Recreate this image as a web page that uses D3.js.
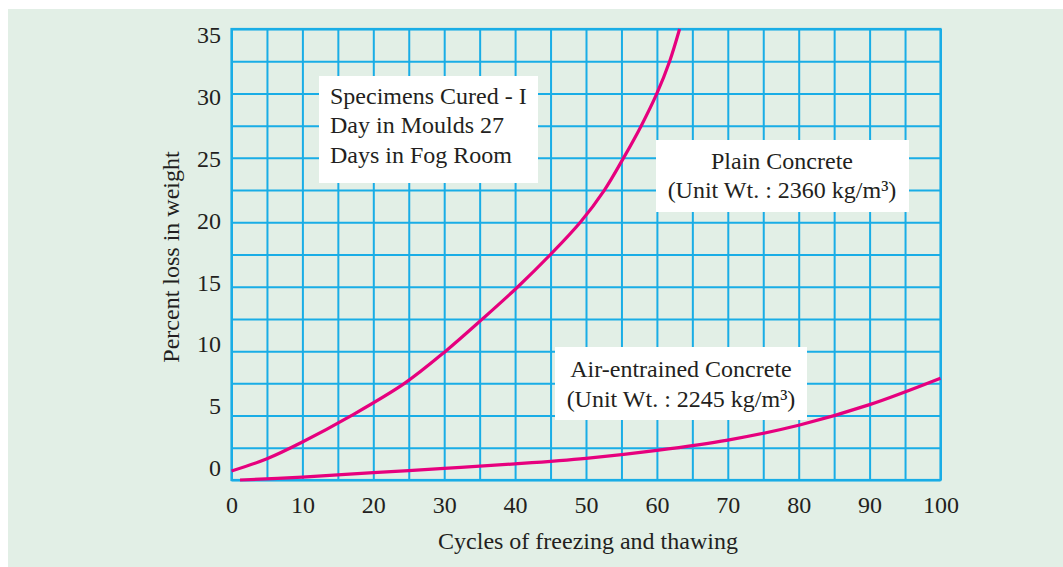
<!DOCTYPE html>
<html>
<head>
<meta charset="utf-8">
<script src="https://cdn.jsdelivr.net/npm/d3@7"></script>
<style>
  html, body { margin: 0; padding: 0; background: #ffffff; }
  svg { display: block; }
  text { font-family: "Liberation Serif", "Times New Roman", serif; fill: #231f20; }
</style>
</head>
<body>
<svg id="chart" width="1063" height="567"></svg>
<script>
// ---- data ----
const xTickValues = [0, 10, 20, 30, 40, 50, 60, 70, 80, 90, 100];
const yTickValues = [0, 5, 10, 15, 20, 25, 30, 35];

const plainCycles = [0, 5, 10, 16.9, 24.4, 30.2, 35.4, 40.4, 45.0, 49.2, 52.6, 55.3, 57.8, 60.0, 61.8, 63.2];
const plainLoss   = [0.7, 1.65, 2.95, 5, 7.5, 10, 12.5, 15, 17.5, 20, 22.5, 25, 27.5, 30, 32.5, 35];

const airCycles = [1.2, 10, 20, 30, 40, 50, 60, 70, 80, 90, 100];
const airLoss   = [0, 0.22, 0.57, 0.9, 1.25, 1.68, 2.3, 3.1, 4.25, 5.85, 7.9];

const xTitle = "Cycles of freezing and thawing";
const yTitle = "Percent loss in weight";
const noteCuring = ["Specimens Cured - I", "Day in Moulds 27", "Days in Fog Room"];
const notePlain = ["Plain Concrete", "(Unit Wt. : 2360 kg/m³)"];
const noteAir = ["Air-entrained Concrete", "(Unit Wt. : 2245 kg/m³)"];

// ---- layout ----
const svg = d3.select("#chart");
const gridColor = "#19ade6";
const curveColor = "#e6007e";
const pLeft = 231.5, pRight = 940.5, pTop = 29, pBottom = 480;

svg.append("rect").attr("x", 8).attr("y", 9).attr("width", 1063 - 8).attr("height", 567 - 9)
   .attr("fill", "#e2efe6");

const x = d3.scaleLinear().domain([0, 100]).range([pLeft, pRight]);
const y = d3.scaleLinear().domain([0, 35]).range([pBottom, pTop]);
// tick labels in the original sit on a slightly compressed ladder
const yLabel = d3.scaleLinear().domain([0, 35]).range([468, 35]);

// grid
const gx = svg.append("g").attr("transform", `translate(0,${pBottom})`)
  .call(d3.axisBottom(x).tickValues(d3.range(0, 100.01, 5)).tickSize(-(pBottom - pTop)).tickFormat(""));
const gy = svg.append("g").attr("transform", `translate(${pLeft},0)`)
  .call(d3.axisLeft(y).tickValues(d3.range(0, 35.01, 2.5)).tickSize(-(pRight - pLeft)).tickFormat(""));
[gx, gy].forEach(g => {
  g.select(".domain").remove();
  g.selectAll("line").attr("stroke", gridColor).attr("stroke-width", 2);
});
svg.append("rect").attr("x", pLeft).attr("y", pTop).attr("width", pRight - pLeft).attr("height", pBottom - pTop)
   .attr("fill", "none").attr("stroke", gridColor).attr("stroke-width", 2.2);

// axes labels
const ax = svg.append("g").attr("transform", `translate(0,${pBottom})`)
  .call(d3.axisBottom(x).tickValues(xTickValues).tickSize(0).tickPadding(16));
ax.select(".domain").remove();
ax.selectAll("text").attr("font-size", 24).attr("font-family", "Liberation Serif").attr("fill", "#231f20");

const ay = svg.append("g").attr("transform", `translate(${pLeft},0)`)
  .call(d3.axisLeft(yLabel).tickValues(yTickValues).tickSize(0).tickPadding(10.5));
ay.select(".domain").remove();
ay.selectAll("text").attr("font-size", 24).attr("font-family", "Liberation Serif").attr("fill", "#231f20");

svg.append("text").attr("x", 588).attr("y", 549).attr("text-anchor", "middle")
   .attr("font-size", 24).text(xTitle);
svg.append("text").attr("transform", "translate(179,257) rotate(-90)").attr("text-anchor", "middle")
   .attr("font-size", 24).text(yTitle);

// curves
const line = d3.line().x(d => x(d[0])).y(d => y(d[1])).curve(d3.curveCatmullRom.alpha(0.5));
svg.append("path").datum(d3.zip(plainCycles, plainLoss)).attr("d", line)
   .attr("fill", "none").attr("stroke", curveColor).attr("stroke-width", 3.2);
svg.append("path").datum(d3.zip(airCycles, airLoss)).attr("d", line)
   .attr("fill", "none").attr("stroke", curveColor).attr("stroke-width", 3.2);

// annotation boxes
function note(lines, bx, by, bw, bh, tx, ty0, anchor) {
  svg.append("rect").attr("x", bx).attr("y", by).attr("width", bw).attr("height", bh).attr("fill", "#ffffff");
  lines.forEach((t, i) => {
    svg.append("text").attr("x", tx).attr("y", ty0 + i * 29.5).attr("text-anchor", anchor)
       .attr("font-size", 24).text(t);
  });
}
note(noteCuring, 319, 76, 219, 107, 330, 103.5, "start");
note(notePlain, 656, 140, 253, 72, 782, 168.5, "middle");
note(noteAir, 555, 347, 252, 73, 681, 377, "middle");
</script>
</body>
</html>
